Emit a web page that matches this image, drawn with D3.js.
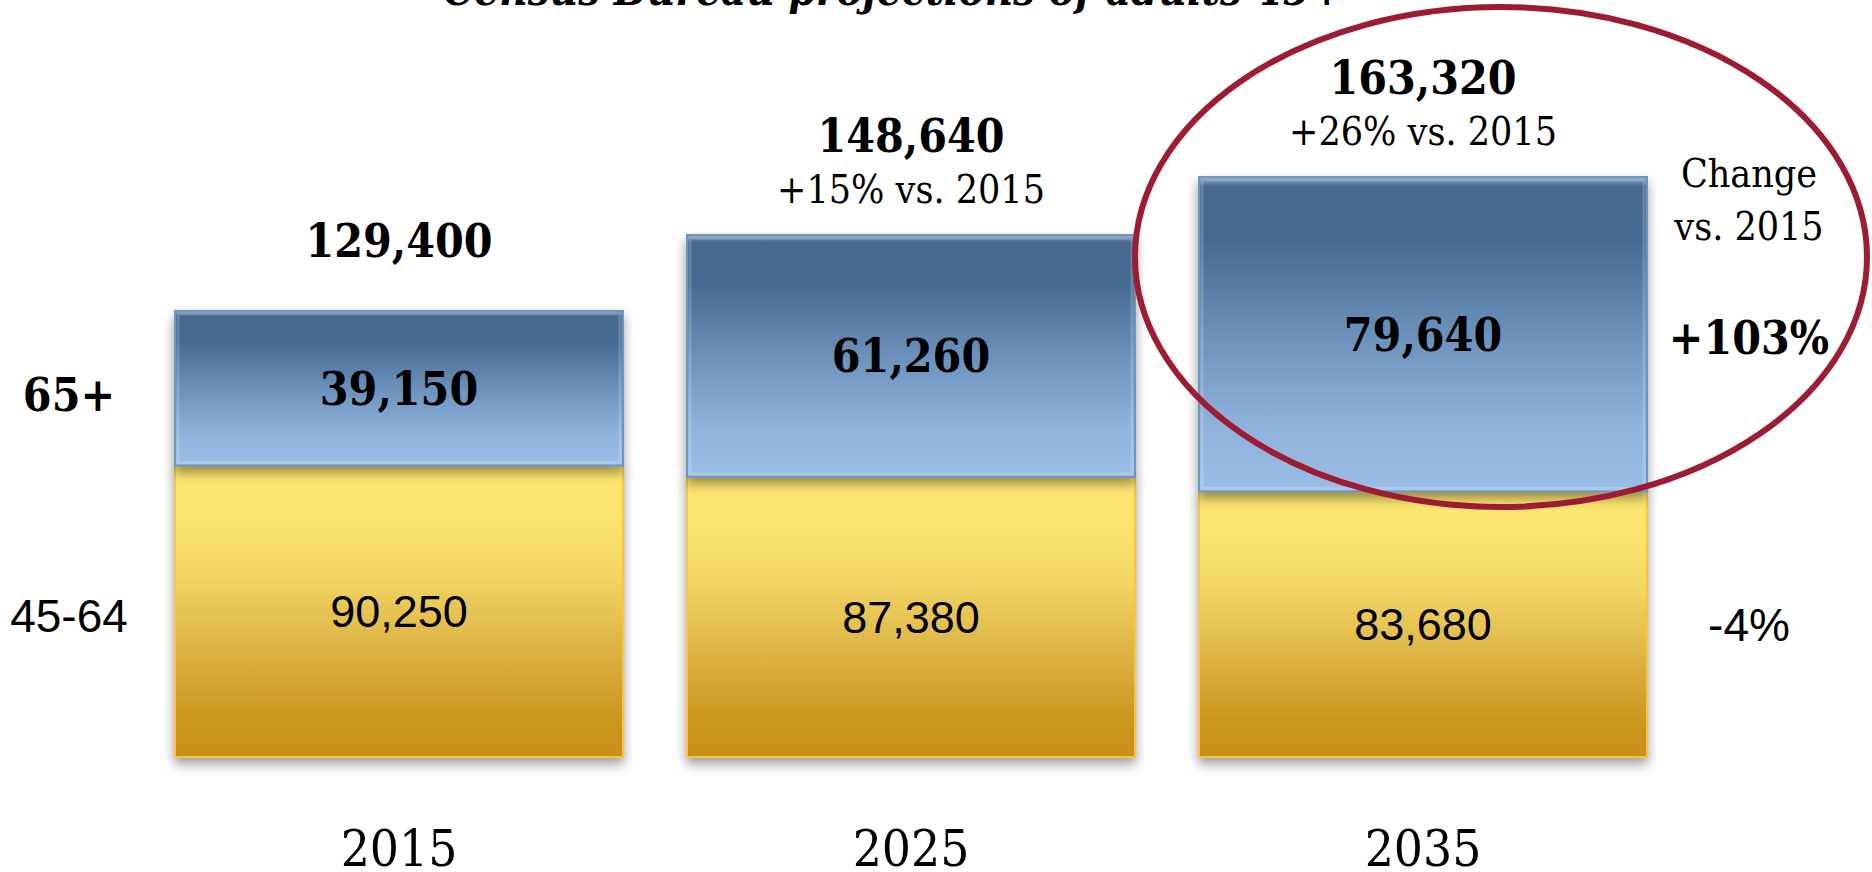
<!DOCTYPE html>
<meta charset="utf-8">
<style>
body { margin: 0; background: #fff; }
.serif { font-family: "DejaVu Serif", serif; font-stretch: condensed; }
.sans { font-family: "Liberation Sans", Arial, sans-serif; }
</style>
<body>
<script src="https://d3js.org/d3.v7.min.js"></script>
<script>

var years = ["2015", "2025", "2035"];
var age4564 = [90250, 87380, 83680];
var age65 = [39150, 61260, 79640];
var totals = [129400, 148640, 163320];
var vs2015 = ["", "+15% vs. 2015", "+26% vs. 2015"];
var groups = ["65+", "45-64"];
var changeVs2015 = ["+103%", "-4%"];
var title = "Census Bureau projections of adults 45+";

var width = 1872,
    height = 872;

var svg = d3.select("body").append("svg")
    .attr("width", width)
    .attr("height", height);

var defs = svg.append("defs");

var blue = defs.append("linearGradient")
    .attr("id", "blue").attr("x1", 0).attr("y1", 0).attr("x2", 0).attr("y2", 1);
[[0, "#8fa8c4"], [0.03, "#46698f"], [0.2, "#456a91"], [0.5, "#6b91bb"], [0.8, "#8fb3dc"], [1, "#9abde6"]]
    .forEach(function(s) { blue.append("stop").attr("offset", s[0]).attr("stop-color", s[1]); });

var yellow = defs.append("linearGradient")
    .attr("id", "yellow").attr("x1", 0).attr("y1", 0).attr("x2", 0).attr("y2", 1);
[[0, "#fce670"], [0.15, "#fce571"], [0.35, "#f4d866"], [0.6, "#deb748"], [0.85, "#cd9822"], [1, "#c88f19"]]
    .forEach(function(s) { yellow.append("stop").attr("offset", s[0]).attr("stop-color", s[1]); });

defs.append("filter")
    .attr("id", "shadow")
    .attr("x", "-10%").attr("y", "-10%").attr("width", "120%").attr("height", "130%")
  .append("feDropShadow")
    .attr("dx", 0).attr("dy", 6)
    .attr("stdDeviation", 6)
    .attr("flood-color", "#000")
    .attr("flood-opacity", 0.4);

// bars start at a cut-off floor, not at zero
var x = d3.scaleBand()
    .domain(years)
    .range([175, 1647])
    .paddingInner(0.125)
    .paddingOuter(0);

var y = d3.scaleLinear()
    .domain([16450, 163320])
    .range([757, 177]);

var base = y.range()[0];

var rows = years.map(function(yr, i) {
    return {year: yr, low: age4564[i], high: age65[i], total: totals[i], sub: vs2015[i]};
});

// title, mostly cut off at the top edge
svg.append("text")
    .attr("class", "serif")
    .attr("x", 443)
    .attr("y", 5)
    .attr("textLength", 900)
    .attr("lengthAdjust", "spacingAndGlyphs")
    .style("font-weight", "bold")
    .style("font-style", "italic")
    .style("font-size", "44px")
    .text(title);

var bar = svg.selectAll("g.bar")
    .data(rows)
  .enter().append("g")
    .attr("class", "bar");

bar.append("rect")
    .attr("x", function(d) { return x(d.year); })
    .attr("y", function(d) { return y(d.low); })
    .attr("width", x.bandwidth())
    .attr("height", function(d) { return base - y(d.low); })
    .attr("fill", "url(#yellow)")
    .attr("stroke", "#f8c446")
    .attr("stroke-width", 2)
    .attr("filter", "url(#shadow)");

bar.append("rect")
    .attr("x", function(d) { return x(d.year); })
    .attr("y", function(d) { return y(d.total); })
    .attr("width", x.bandwidth())
    .attr("height", function(d) { return y(d.low) - y(d.total); })
    .attr("fill", "url(#blue)")
    .attr("stroke", "#7094c0")
    .attr("stroke-width", 2)
    .attr("filter", "url(#shadow)");

// faint inner edge highlight on the blue part
bar.append("rect")
    .attr("x", function(d) { return x(d.year) + 3; })
    .attr("y", function(d) { return y(d.total) + 3; })
    .attr("width", x.bandwidth() - 6)
    .attr("height", function(d) { return y(d.low) - y(d.total) - 6; })
    .attr("fill", "none")
    .attr("stroke", "rgba(255,255,255,0.18)")
    .attr("stroke-width", 3);

bar.append("text")
    .attr("class", "serif")
    .attr("x", function(d) { return x(d.year) + x.bandwidth() / 2; })
    .attr("y", function(d) { return (y(d.total) + y(d.low)) / 2; })
    .attr("dy", "0.36em")
    .attr("text-anchor", "middle")
    .style("font-weight", "bold")
    .style("font-size", "46px")
    .text(function(d) { return d3.format(",")(d.high); });

bar.append("text")
    .attr("class", "sans")
    .attr("x", function(d) { return x(d.year) + x.bandwidth() / 2; })
    .attr("y", function(d) { return (y(d.low) + base) / 2; })
    .attr("dy", "0.36em")
    .attr("text-anchor", "middle")
    .style("font-size", "45px")
    .text(function(d) { return d3.format(",")(d.low); });

bar.append("text")
    .attr("class", "serif")
    .attr("x", function(d) { return x(d.year) + x.bandwidth() / 2; })
    .attr("y", function(d) { return y(d.total) - (d.sub ? 100 : 71); })
    .attr("dy", "0.36em")
    .attr("text-anchor", "middle")
    .style("font-weight", "bold")
    .style("font-size", "46px")
    .text(function(d) { return d3.format(",")(d.total); });

bar.filter(function(d) { return d.sub; }).append("text")
    .attr("class", "serif")
    .attr("x", function(d) { return x(d.year) + x.bandwidth() / 2; })
    .attr("y", function(d) { return y(d.total) - 46; })
    .attr("dy", "0.36em")
    .attr("text-anchor", "middle")
    .style("font-size", "39px")
    .text(function(d) { return d.sub; });

bar.append("text")
    .attr("class", "serif")
    .attr("x", function(d) { return x(d.year) + x.bandwidth() / 2; })
    .attr("y", 866)
    .attr("text-anchor", "middle")
    .style("font-size", "51px")
    .text(function(d) { return d.year; });

// row labels on the left, level with the first bar
var first = rows[0];
var rowY = [(y(first.total) + y(first.low)) / 2 + 6, (y(first.low) + base) / 2 + 4];

svg.selectAll("text.group")
    .data(groups)
  .enter().append("text")
    .attr("class", function(d, i) { return i == 0 ? "group serif" : "group sans"; })
    .attr("x", 69)
    .attr("y", function(d, i) { return rowY[i]; })
    .attr("dy", "0.36em")
    .attr("text-anchor", "middle")
    .style("font-weight", function(d, i) { return i == 0 ? "bold" : "normal"; })
    .style("font-size", "46px")
    .text(function(d) { return d; });

// change column, level with the last bar
var last = rows[rows.length - 1];
var colX = 1749;
var changeY = [(y(last.total) + y(last.low)) / 2 + 3, (y(last.low) + base) / 2];

svg.selectAll("text.change")
    .data(changeVs2015)
  .enter().append("text")
    .attr("class", function(d, i) { return i == 0 ? "change serif" : "change sans"; })
    .attr("x", colX)
    .attr("y", function(d, i) { return changeY[i]; })
    .attr("dy", "0.36em")
    .attr("text-anchor", "middle")
    .style("font-weight", function(d, i) { return i == 0 ? "bold" : "normal"; })
    .style("font-size", "46px")
    .text(function(d) { return d; });

svg.selectAll("text.head")
    .data(["Change", "vs. 2015"])
  .enter().append("text")
    .attr("class", "head serif")
    .attr("x", colX)
    .attr("y", function(d, i) { return 187 + i * 53; })
    .attr("text-anchor", "middle")
    .style("font-size", "39px")
    .text(function(d) { return d; });

// highlight ring round the 2035 top segment
svg.append("ellipse")
    .attr("cx", 1501)
    .attr("cy", 257)
    .attr("rx", 366)
    .attr("ry", 250)
    .attr("fill", "none")
    .attr("stroke", "#9e1b34")
    .attr("stroke-width", 6);

</script>
